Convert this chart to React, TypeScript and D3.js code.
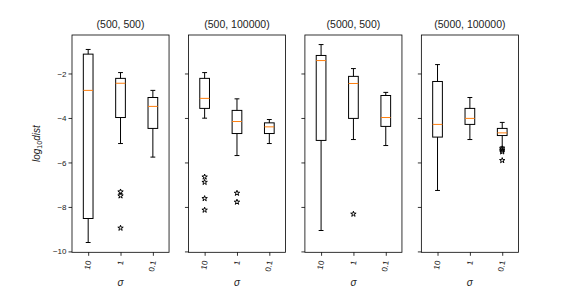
import React, { useEffect, useRef } from 'react';
import * as d3 from 'd3';

// panel titles and x categories
const titles = ['(500, 500)', '(500, 100000)', '(5000, 500)', '(5000, 100000)'];
const sigmas = ['10', '1', '0.1'];
const yTicks = [-10, -8, -6, -4, -2];

// box stats per panel, one value per sigma (log10 dist)
const whiskerHigh = [
    [-0.92, -1.96, -2.76],
    [-1.96, -3.14, -4.07],
    [-0.70, -1.78, -2.85],
    [-1.60, -3.08, -4.20],
];
const q3s = [
    [-1.13, -2.22, -3.08],
    [-2.22, -3.66, -4.22],
    [-1.19, -2.13, -2.99],
    [-2.36, -3.57, -4.47],
];
const medians = [
    [-2.76, -2.44, -3.48],
    [-3.12, -4.16, -4.40],
    [-1.42, -2.45, -3.98],
    [-4.29, -4.02, -4.67],
];
const q1s = [
    [-8.52, -3.98, -4.47],
    [-3.57, -4.70, -4.70],
    [-5.01, -4.02, -4.38],
    [-4.86, -4.29, -4.79],
];
const whiskerLow = [
    [-9.60, -5.15, -5.76],
    [-4.01, -5.69, -5.15],
    [-9.06, -4.97, -5.24],
    [-7.26, -4.97, -5.30],
];
const outliers = [
    [[], [-7.32, -7.50, -8.95], []],
    [[-6.65, -6.89, -7.62, -8.14], [-7.38, -7.78], []],
    [[], [-8.32], []],
    [[], [], [-5.38, -5.45, -5.52, -5.91]],
];

const figW = 576, figH = 288;
const axLeft = 72, axRight = 518.4, wspace = 0.2;
const axTop = 35, axBottom = 252.3;
const font = 'Liberation Sans, Arial, sans-serif';

function App() {
    const ref = useRef(null);

    useEffect(() => {
        const svg = d3.select(ref.current);
        svg.selectAll('*').remove();

        const axW = (axRight - axLeft) / (titles.length + (titles.length - 1) * wspace);
        const y = d3.scaleLinear().domain([-10.04, -0.27]).range([axBottom, axTop]);
        const x = d3.scalePoint().domain(sigmas).range([0, axW]).padding(0.5);
        const boxW = x.step() * 0.3;
        const star = d3.symbol().type(d3.symbolStar).size(9);

        titles.forEach((title, p) => {
            const left = axLeft + p * axW * (1 + wspace);
            const g = svg.append('g').attr('transform', 'translate(' + left + ',0)');

            // y axis
            const ya = g.append('g')
                .call(d3.axisLeft(y).tickValues(yTicks).tickSize(3.5).tickPadding(2)
                    .tickFormat(p === 0 ? d3.format('d') : () => ''));
            ya.select('.domain').remove();
            ya.selectAll('line').attr('stroke', '#000').attr('stroke-width', 0.8);
            ya.selectAll('text').attr('font-family', font).attr('font-size', 8).attr('fill', '#222');

            // x axis
            const xa = g.append('g')
                .attr('transform', 'translate(0,' + axBottom + ')')
                .call(d3.axisBottom(x).tickSize(3.5).tickPadding(0));
            xa.select('.domain').remove();
            xa.selectAll('line').attr('stroke', '#000').attr('stroke-width', 0.8);
            xa.selectAll('text')
                .attr('font-family', font)
                .attr('font-size', 8)
                .attr('fill', '#222')
                .attr('text-anchor', 'end')
                .attr('dy', null)
                .attr('dominant-baseline', 'middle')
                .attr('y', null)
                .attr('transform', 'translate(0.5,8.5) rotate(-80)');

            // boxes
            sigmas.forEach((s, i) => {
                const cx = x(s);
                const b = g.append('g').attr('fill', 'none').attr('stroke', '#000').attr('stroke-width', 1);
                b.append('line')
                    .attr('x1', cx).attr('x2', cx)
                    .attr('y1', y(whiskerHigh[p][i])).attr('y2', y(q3s[p][i]));
                b.append('line')
                    .attr('x1', cx).attr('x2', cx)
                    .attr('y1', y(q1s[p][i])).attr('y2', y(whiskerLow[p][i]));
                [whiskerHigh[p][i], whiskerLow[p][i]].forEach(v => {
                    b.append('line')
                        .attr('x1', cx - boxW / 4).attr('x2', cx + boxW / 4)
                        .attr('y1', y(v)).attr('y2', y(v));
                });
                b.append('rect')
                    .attr('x', cx - boxW / 2)
                    .attr('y', y(q3s[p][i]))
                    .attr('width', boxW)
                    .attr('height', y(q1s[p][i]) - y(q3s[p][i]));
                b.append('line')
                    .attr('x1', cx - boxW / 2).attr('x2', cx + boxW / 2)
                    .attr('y1', y(medians[p][i])).attr('y2', y(medians[p][i]))
                    .attr('stroke', '#ff7f0e');
                b.selectAll('path.flier')
                    .data(outliers[p][i])
                    .enter().append('path')
                    .attr('class', 'flier')
                    .attr('d', star)
                    .attr('transform', d => 'translate(' + cx + ',' + y(d) + ')')
                    .attr('stroke-width', 1);
            });

            // frame
            g.append('rect')
                .attr('x', 0).attr('y', axTop)
                .attr('width', axW).attr('height', axBottom - axTop)
                .attr('fill', 'none').attr('stroke', '#000').attr('stroke-width', 0.8);

            g.append('text')
                .attr('x', axW / 2).attr('y', 28)
                .attr('text-anchor', 'middle')
                .attr('font-family', font).attr('font-size', 10.5)
                .attr('fill', '#222')
                .text(title);

            g.append('text')
                .attr('x', axW / 2).attr('y', 285.5)
                .attr('text-anchor', 'middle')
                .attr('font-family', font).attr('font-size', 10)
                .attr('font-style', 'italic')
                .attr('fill', '#222')
                .text('σ');
        });

        // y label
        const yl = svg.append('text')
            .attr('transform', 'translate(40,' + (axTop + axBottom) / 2 + ') rotate(-90)')
            .attr('text-anchor', 'middle')
            .attr('font-family', font).attr('font-size', 10)
            .attr('fill', '#222');
        yl.append('tspan').attr('font-style', 'italic').text('log');
        yl.append('tspan').attr('font-size', 7).attr('dy', 2).text('10');
        yl.append('tspan').attr('font-style', 'italic').attr('dy', -2).text('dist');
    }, []);

    return (
        <svg ref={ref} width={figW} height={figH}
            style={{ position: 'absolute', left: 0, top: 0, background: '#fff' }}></svg>
    );
}

export default App;
